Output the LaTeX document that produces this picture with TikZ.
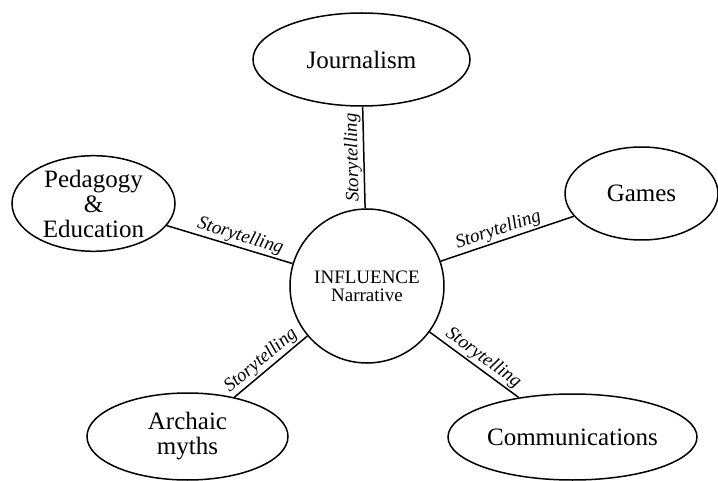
\documentclass[tikz,border=0pt]{standalone}
\usepackage{fontspec}
\setmainfont{Liberation Serif}
\usetikzlibrary{shapes.geometric}
\begin{document}
\begin{tikzpicture}[x=1pt,y=-1pt,
  topic/.style={draw, line width=1.5pt, ellipse, inner sep=0pt, align=center,
    font=\fontsize{25}{25}\selectfont},
  hub/.style={draw, line width=1.5pt, circle, minimum size=154pt, inner sep=0pt,
    align=center, font=\fontsize{19}{20}\selectfont},
  link/.style={line width=1.5pt},
  tag/.style={sloped, above, inner sep=1.5pt, font=\itshape\fontsize{19}{20}\selectfont}]
  \useasboundingbox (0,0) rectangle (718,481);
  \clip (0,0) rectangle (718,481);

  % central topic
  \node[hub] (inf) at (367,286) {INFLUENCE\\[-2pt]Narrative};

  % surrounding fields
  \node[topic, minimum width=217pt, minimum height=93pt] (jour) at (361.5,59.5) {Journalism};
  \node[topic, minimum width=153pt, minimum height=93pt] (games) at (641.5,193.5) {Games};
  \node[topic, minimum width=163pt, minimum height=93pt] (ped) at (93.5,203.5) {Pedagogy\\\&\\Education};
  \node[topic, minimum width=201pt, minimum height=87pt] (arch) at (187.5,436.5) {Archaic\\myths};
  \node[topic, minimum width=249pt, minimum height=86pt] (comm) at (572.5,437) {Communications};

  % connectors
  \draw[link] (inf) -- node[tag, allow upside down, pos=0.5] {Storytelling} (jour);
  \draw[link] (ped) -- node[tag, pos=0.56] {Storytelling} (inf);
  \draw[link] (inf) -- node[tag, pos=0.46] {Storytelling} (games);
  \draw[link] (arch) -- node[tag, pos=0.46] {Storytelling} (inf);
  \draw[link] (inf) -- node[tag, pos=0.53] {Storytelling} (comm);
\end{tikzpicture}
\end{document}
